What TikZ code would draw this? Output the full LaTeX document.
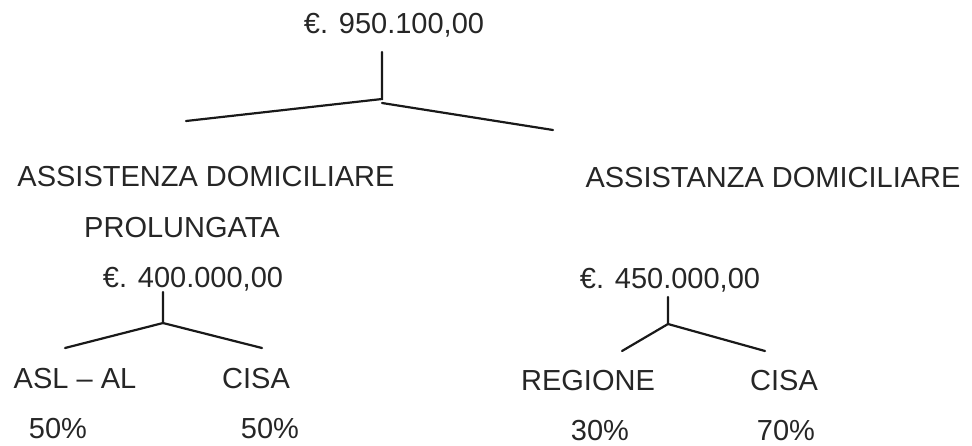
\documentclass[tikz,border=0pt]{standalone}
\usepackage{fontspec}
\setmainfont{Liberation Sans}
\usetikzlibrary{positioning}
\tikzset{
    txt/.style = {anchor=base, inner sep=0pt, text=black!85, font=\fontsize{14.5}{17}\selectfont},
    branch/.style = {line width=1.1pt, black!90, line cap=round},
}

\begin{document}
\begin{tikzpicture}[x=0.5pt,y=-0.5pt]
\useasboundingbox (0,0) rectangle (972,445);
% amounts and headings
\node[txt] at (394, 33) (tot) {€. 950.100,00};
\node[txt] at (206,186) (adp) {ASSISTENZA DOMICILIARE};
\node[txt] at (182,237) (prol) {PROLUNGATA};
\node[txt] at (773,187) (ad) {ASSISTANZA DOMICILIARE};
\node[txt] at (193,287) (e400) {€. 400.000,00};
\node[txt] at (670,288) (e450) {€. 450.000,00};
% parties
\node[txt] at ( 75,388) (asl) {ASL – AL};
\node[txt] at (256,388) (cisal) {CISA};
\node[txt] at ( 58,438) (pasl) {50\%};
\node[txt] at (270,438) (pcisal) {50\%};
\node[txt] at (588,390) (reg) {REGIONE};
\node[txt] at (784,390) (cisar) {CISA};
\node[txt] at (600,440) (preg) {30\%};
\node[txt] at (786,440) (pcisar) {70\%};
%
\coordinate (vtot) at (382, 52);
\coordinate (jtot) at (382, 99);
\coordinate (ltot) at (186,121);
\coordinate (rtot) at (553,130);
\coordinate (v400) at (163,292);
\coordinate (j400) at (163,323);
\coordinate (l400) at ( 65,348);
\coordinate (r400) at (262,348);
\coordinate (v450) at (668,297);
\coordinate (j450) at (668,324);
\coordinate (l450) at (622,351);
\coordinate (r450) at (765,351);
%
\draw[branch] (vtot) -- (jtot) -- (ltot);
\draw[branch] (jtot) ++(0,4) -- (rtot);
\draw[branch] (v400) -- (j400) -- (l400);
\draw[branch] (j400) -- (r400);
\draw[branch] (v450) -- (j450) -- (l450);
\draw[branch] (j450) -- (r450);

\end{tikzpicture}
\end{document}
